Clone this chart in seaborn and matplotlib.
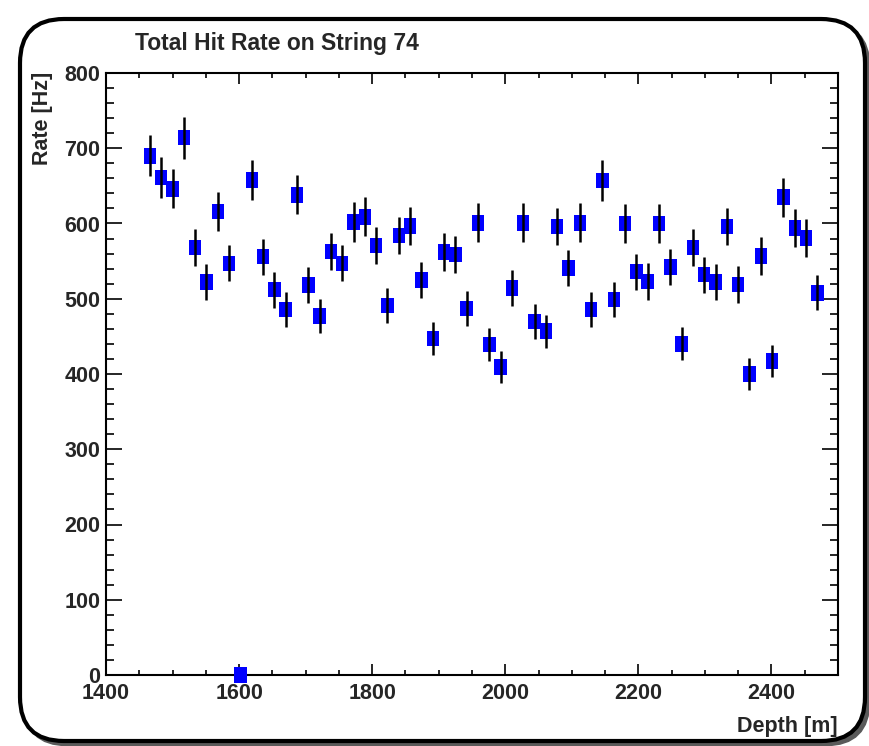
import numpy as np
import pandas as pd
import matplotlib
matplotlib.use("Agg")
import matplotlib.pyplot as plt
import seaborn as sns
from matplotlib.patches import FancyBboxPatch
from matplotlib.transforms import IdentityTransform
from matplotlib.ticker import MultipleLocator

# ---------------- data ----------------
depth = [1466, 1483, 1500, 1517, 1534, 1551, 1568, 1585, 1602, 1619,
         1636, 1653, 1670, 1687, 1704, 1721, 1738, 1755, 1772, 1789,
         1806, 1823, 1840, 1857, 1874, 1891, 1908, 1925, 1942, 1959,
         1976, 1993, 2010, 2027, 2044, 2061, 2078, 2095, 2112, 2129,
         2146, 2163, 2180, 2197, 2214, 2231, 2248, 2265, 2282, 2299,
         2316, 2333, 2350, 2367, 2384, 2401, 2418, 2435, 2452, 2469]
rate = [690, 661, 646, 714, 568, 522, 616, 547, 0, 658,
        556, 512, 486, 638, 518, 477, 563, 547, 602, 609,
        571, 491, 584, 597, 525, 447, 562, 559, 487, 601,
        439, 409, 514, 601, 470, 457, 596, 541, 601, 486,
        657, 499, 600, 536, 523, 600, 542, 440, 568, 532,
        522, 596, 519, 400, 557, 417, 635, 594, 581, 508]
rate_err = [27, 27, 26, 28, 25, 24, 26, 24, 0, 27,
            24, 24, 23, 26, 24, 23, 25, 24, 26, 26,
            25, 23, 25, 25, 24, 22, 25, 25, 23, 26,
            22, 21, 24, 26, 23, 22, 25, 24, 26, 23,
            27, 23, 26, 24, 24, 26, 24, 22, 25, 24,
            24, 25, 24, 21, 25, 21, 26, 25, 25, 23]
x_ticks = [1400, 1600, 1800, 2000, 2200, 2400]
y_ticks = [0, 100, 200, 300, 400, 500, 600, 700, 800]
title = "Total Hit Rate on String 74"
x_label = "Depth [m]"
y_label = "Rate [Hz]"

df = pd.DataFrame({"depth": depth, "rate": rate, "err": rate_err})

# ---------------- style ----------------
sns.set_style("ticks")
FONT = ["Liberation Sans", "DejaVu Sans"]
plt.rcParams["font.family"] = FONT
plt.rcParams["font.weight"] = "bold"

W, H = 870, 746
fig = plt.figure(figsize=(W / 100, H / 100), dpi=100)
fig.patch.set_facecolor("white")

# rounded frame with shadow (pixel coordinates)
fx0, fx1 = 20, 865
fy_top, fy_bot = 19, 741
shadow = FancyBboxPatch((fx0 + 4, H - fy_bot - 4), fx1 - fx0, fy_bot - fy_top,
                        boxstyle="round,pad=0,rounding_size=44",
                        fc="#5a5a5a", ec="#5a5a5a", lw=2,
                        transform=IdentityTransform(), zorder=-20)
frame = FancyBboxPatch((fx0, H - fy_bot), fx1 - fx0, fy_bot - fy_top,
                       boxstyle="round,pad=0,rounding_size=44",
                       fc="white", ec="black", lw=3,
                       transform=IdentityTransform(), zorder=-10)
fig.add_artist(shadow)
fig.add_artist(frame)

# axes
ax_l, ax_r, ax_t, ax_b = 106, 838, 73, 675
ax = fig.add_axes([ax_l / W, 1 - ax_b / H, (ax_r - ax_l) / W, (ax_b - ax_t) / H])
ax.set_facecolor("white")

# error bars (drawn over markers)
ax.vlines(df["depth"], df["rate"] - df["err"], df["rate"] + df["err"],
          colors="black", linewidth=1.8, zorder=4)

rect_marker = [(-0.4, -0.5), (0.4, -0.5), (0.4, 0.5), (-0.4, 0.5), (-0.4, -0.5)]
sns.scatterplot(data=df, x="depth", y="rate", ax=ax, marker=rect_marker,
                s=11.2 ** 2, color="#0000ff", edgecolor="none", linewidth=0,
                zorder=3, clip_on=False, legend=False)

ax.set_xlim(1400, 2500)
ax.set_ylim(0, 800)
ax.set_xticks(x_ticks)
ax.set_yticks(y_ticks)
ax.xaxis.set_minor_locator(MultipleLocator(50))
ax.yaxis.set_minor_locator(MultipleLocator(20))
ax.tick_params(axis="x", which="major", direction="in", length=8, width=1.4,
               top=True, bottom=True, labelsize=15.5, pad=6)
ax.tick_params(axis="x", which="minor", direction="in", length=3.6, width=1.4,
               top=True, bottom=True)
ax.tick_params(axis="y", which="major", direction="in", length=11.5, width=1.4,
               left=True, right=True, labelsize=15.5, pad=4)
ax.tick_params(axis="y", which="minor", direction="in", length=5.8, width=1.4,
               left=True, right=True)
for lab in ax.get_xticklabels() + ax.get_yticklabels():
    lab.set_fontweight("bold")
for sp in ax.spines.values():
    sp.set_visible(True)
    sp.set_linewidth(1.5)
    sp.set_color("black")
ax.set_xlabel("")
ax.set_ylabel("")

# texts
fig.text(135 / W, 1 - 50 / H, title, ha="left", va="baseline",
         fontsize=16.5, fontweight="bold", family=FONT)
fig.text(43 / W, 1 - 72 / H, y_label, ha="center", va="top", rotation=90,
         fontsize=15.5, fontweight="bold", family=FONT)
fig.text(838 / W, 1 - 732 / H, x_label, ha="right", va="baseline",
         fontsize=15.5, fontweight="bold", family=FONT)

fig.savefig("out.png", dpi=100, facecolor="white")
